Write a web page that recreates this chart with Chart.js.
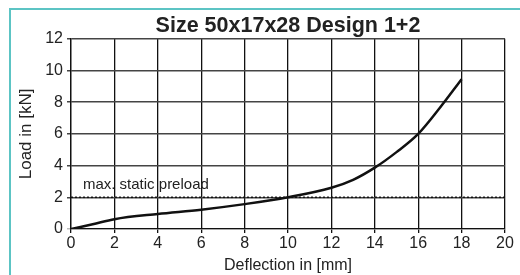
<!DOCTYPE html>
<html>
<head>
<meta charset="utf-8">
<script src="https://cdn.jsdelivr.net/npm/chart.js@4"></script>
<style>
  html, body { margin: 0; padding: 0; background: #fff; overflow: hidden; }
  #wrap { position: relative; width: 520px; height: 275px; }
  #frame { position: absolute; left: 9px; top: 8px; width: 600px; height: 400px;
           border-left: 2px solid #5cc4c4; border-top: 2px solid #5cc4c4; box-sizing: border-box; }
  canvas { position: absolute; left: 0; top: 0; }
</style>
</head>
<body>
<div id="wrap">
  <div id="frame"></div>
  <canvas id="myChart" width="520" height="275"></canvas>
</div>
<script>
// deflection in mm vs load in kN
const deflection = [0, 1, 2, 4, 6, 8, 10, 12, 13, 14, 15, 16, 17, 18];
const load = [0, 0.3, 0.62, 0.95, 1.22, 1.57, 2.0, 2.6, 3.1, 3.87, 4.85, 6.0, 7.65, 9.45];
const preloadValue = 2;
const preloadLabel = 'max. static preload';
const xTicks = [0, 2, 4, 6, 8, 10, 12, 14, 16, 18, 20];
const yTicks = [0, 2, 4, 6, 8, 10, 12];

const preloadText = {
    id: 'preloadText',
    afterDatasetsDraw(chart) {
        const ctx = chart.ctx;
        const x = chart.scales.x.getPixelForValue(0.55);
        const y = chart.scales.y.getPixelForValue(preloadValue) - 5;
        ctx.save();
        ctx.font = '15px "Liberation Sans", Arial, sans-serif';
        ctx.fillStyle = '#222';
        ctx.textBaseline = 'bottom';
        ctx.fillText(preloadLabel, x, y);
        ctx.restore();
    }
};

const font = { family: '"Liberation Sans", Arial, sans-serif', size: 16 };

const ctx = document.getElementById('myChart').getContext('2d');
new Chart(ctx, {
    type: 'line',
    data: {
        datasets: [{
            data: deflection.map((d, i) => ({ x: d, y: load[i] })),
            borderColor: '#111',
            borderWidth: 2.5,
            pointRadius: 0,
            cubicInterpolationMode: 'monotone',
            fill: false
        }, {
            data: [{ x: 0, y: preloadValue }, { x: 20, y: preloadValue }],
            borderColor: '#111',
            borderWidth: 1.5,
            borderDash: [2, 2],
            pointRadius: 0
        }]
    },
    options: {
        responsive: false,
        animation: false,
        layout: { padding: { left: 0, right: 15, top: 0, bottom: 0 } },
        scales: {
            x: {
                type: 'linear', min: 0, max: 20,
                afterBuildTicks: (s) => { s.ticks = xTicks.map(v => ({ value: v })); },
                grid: { color: '#111', lineWidth: 1.3, drawTicks: true, tickLength: 4 },
                border: { color: '#111', width: 1.3 },
                ticks: { color: '#222', font: font, padding: 1, maxRotation: 0 },
                title: { display: true, text: 'Deflection in [mm]', color: '#222', font: font, padding: { top: 0, bottom: 0 } },
                afterFit: (s) => { s.height = 46; }
            },
            y: {
                type: 'linear', min: 0, max: 12,
                afterBuildTicks: (s) => { s.ticks = yTicks.map(v => ({ value: v })); },
                grid: {
                    color: (c) => c.tick && c.tick.value === 0 ? '#bbb' : '#444',
                    lineWidth: 1.5, tickLength: 4
                },
                border: { color: '#111', width: 1.3 },
                ticks: { color: '#222', font: font, padding: 4 },
                title: { display: true, text: 'Load in [kN]', color: '#222', font: { family: font.family, size: 17 }, padding: { top: 16, bottom: 0 } },
                afterFit: (s) => { s.width = 71; }
            }
        },
        plugins: {
            legend: { display: false },
            tooltip: { enabled: false },
            title: {
                display: true,
                fullSize: false,
                text: 'Size 50x17x28 Design 1+2',
                color: '#222',
                font: { family: '"Liberation Sans", Arial, sans-serif', size: 21.5, weight: 'bold' },
                padding: { top: 13, bottom: 0 }
            }
        }
    },
    plugins: [preloadText]
});
</script>
</body>
</html>
